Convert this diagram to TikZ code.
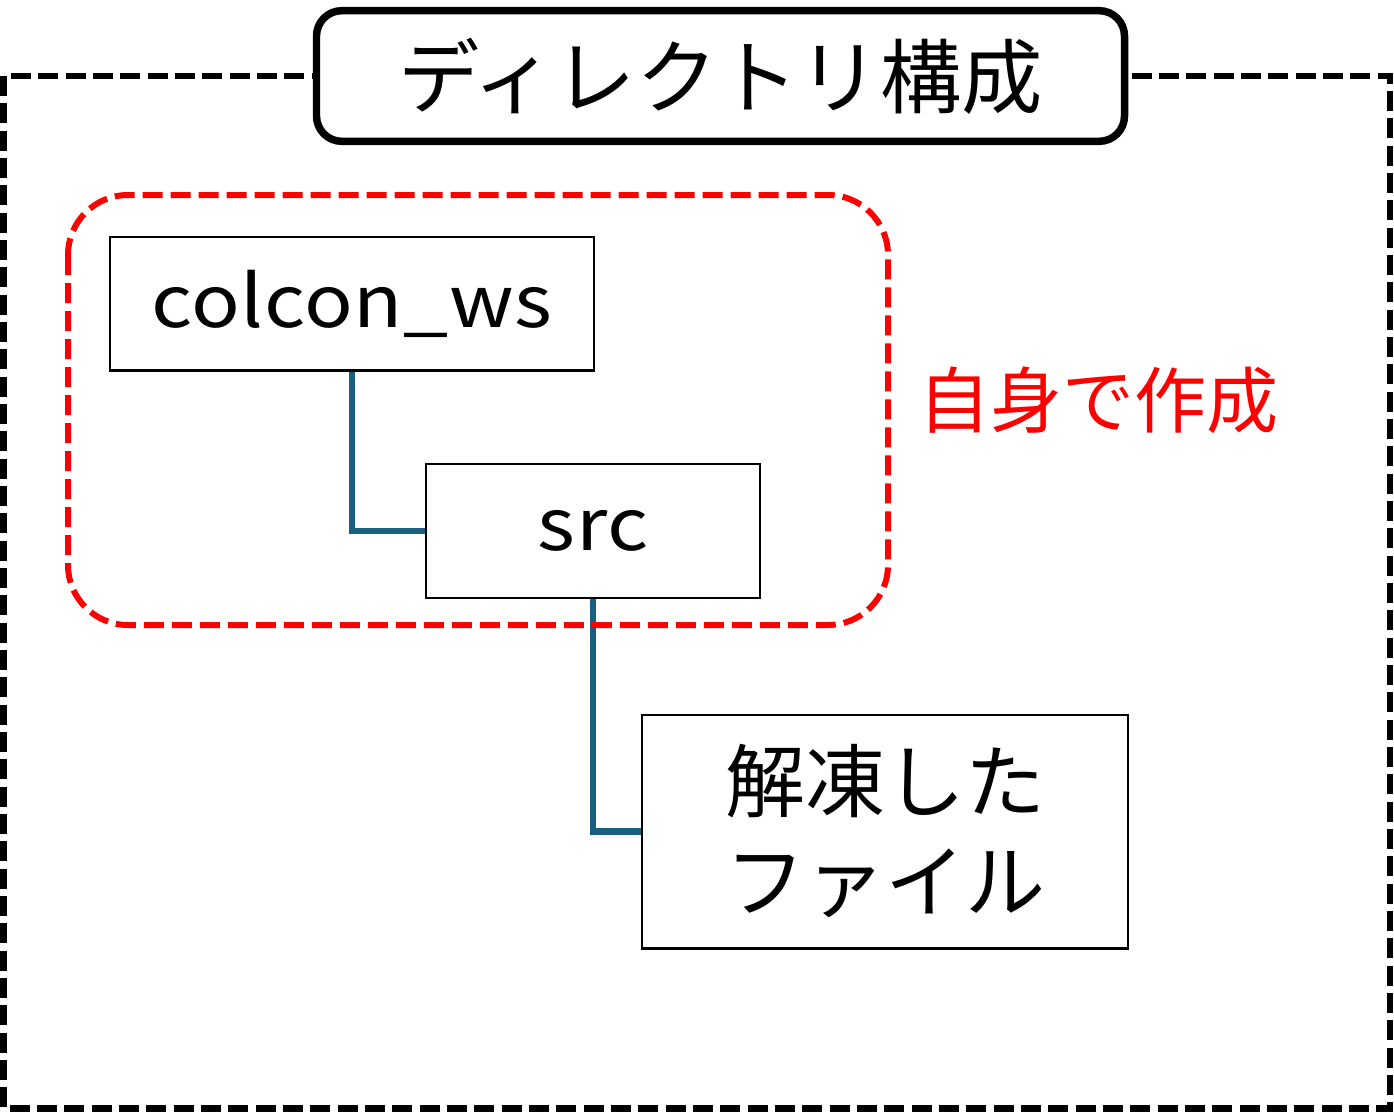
\documentclass[tikz,border=0pt]{standalone}
\usepackage{fontspec}
\newfontfamily\jpfont{Noto Sans CJK JP}
\newfontfamily\wsfont{Noto Sans CJK JP}[FakeStretch=1.12, LetterSpace=1]
\usetikzlibrary{positioning}
\definecolor{linkblue}{HTML}{1A5F80}
\begin{document}
\begin{tikzpicture}[x=0.75pt,y=-0.75pt]
\useasboundingbox (0,0) rectangle (1394,1114);
\tikzset{dirbox/.style={draw=black, line width=2pt, fill=white, inner sep=0pt,
    font=\wsfont\fontsize{54}{66}\selectfont, align=center},
  dirlink/.style={draw=linkblue, line width=5pt}}

% outer frame
\draw [line width=5.2pt, dash pattern=on 15pt off 5.5pt] (3.5,76) rectangle (1390,1108.5);
\node [draw=black, line width=5.6pt, fill=white, rounded corners=19pt, inner sep=0pt,
    minimum width=606pt, minimum height=98pt, font=\jpfont\fontsize{61}{72}\selectfont]
    (title) at (720.5,76) {\raisebox{3pt}{ディレクトリ構成}};

% directories
\node [dirbox, minimum width=363pt, minimum height=100pt] (colcon) at (352,303.5) {colcon\_ws};
\node [dirbox, minimum width=250.5pt, minimum height=100.5pt] (src) at (593,531) {src};
\node [dirbox, minimum width=364.5pt, minimum height=175pt, font=\jpfont\fontsize{60}{75}\selectfont]
    (files) at (885,831.5) {\raisebox{3pt}{解凍した}\\\raisebox{3pt}{ファイル}};

\draw [dirlink] (colcon.south) |- (src.west);
\draw [dirlink] (src.south) |- (files.west);

% own part
\draw [red, line width=4.5pt, dash pattern=on 15pt off 6pt, rounded corners=45pt]
    (68,195) rectangle (888,625);
\node [red, font=\jpfont\fontsize{54}{66}\selectfont] (own) at (1098,400) {自身で作成};
\end{tikzpicture}
\end{document}
